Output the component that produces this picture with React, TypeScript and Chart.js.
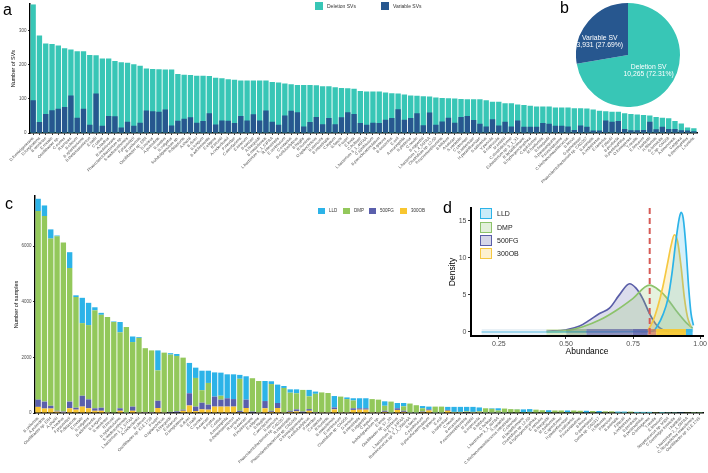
import React, { useEffect, useRef } from "react";
import { Chart, registerables } from "chart.js";

Chart.register(...registerables);

const FONT = "'Liberation Sans', Arial, Helvetica, sans-serif";
const TICK_GREY = "#4d4d4d";

const C_DEL = "#38C6B6";
const C_VAR = "#27578F";
const C_LLD = "#2CB3E8";
const C_DMP = "#93C85B";
const C_FG = "#5A5FAC";
const C_OB = "#F8C630";

// ---------- panel a ----------
const svSpecies = [
  "D.formicigenerans", "D.longicatena", "B.wexlerae", "E.rectale", "Oscillibacter sp.", "C.comes", "R.torques", "B.obeum", "B.xylanisolvens", "B.thetaiotaomicron",
  "E.hallii", "C.catus", "A.hadrus", "R.inulinivorans", "Phascolarctobacterium sp.", "S.wadsworthensis", "F.prausnitzii", "B.uniformis", "Oscillibacter sp. ER4", "D.invisus",
  "A.putredinis", "B.ovatus", "B.vulgatus", "Subdoligranulum sp.", "P.distasonis", "A.shahii", "B.dorei", "B.longum", "B.adolescentis", "E.eligens",
  "R.bromii", "A.onderdonkii", "P.merdae", "C.aerofaciens", "E.siraeum", "B.caccae", "A.finegoldii", "B.massiliensis", "L.bacterium 5_1_63FAA", "R.intestinalis",
  "E.ventriosum", "C.eutactus", "B.cellulosilyticus", "B.fragilis", "R.hominis", "O.splanchnicus", "B.stercoris", "B.intestinalis", "C.leptum", "B.faecis",
  "P.copri", "E.lenta", "C.bolteae", "L.bacterium 3_1_46FAA", "C.symbiosum", "B.pseudocatenulatum", "R.gnavus", "B.crossotus", "E.coli", "A.muciniphila",
  "B.plebeius", "C.nexile", "B.eggerthii", "L.bacterium 1_4_56FAA", "Clostridium sp. L2-50", "P.excrementihominis", "B.bifidum", "A.caccae", "S.variabile", "C.citroniae",
  "B.salyersiae", "H.parainfluenzae", "S.salivarius", "V.parvula", "B.coprocola", "M.smithii", "C.clostridioforme", "Eubacterium sp. 3_1_31", "R.lactatiformans", "B.hydrogenotrophica",
  "C.spiroforme", "M.funiformis", "B.finegoldii", "S.parasanguinis", "P.succinatutens", "C.Methanomassiliicoccus", "B.breve", "G.pamelaeae", "Phascolarctobacterium sp. CAG207", "B.animalis",
  "A.indistinctus", "E.ramulus", "F.plautii", "B.producta", "B.pectinophilus", "O.formigenes", "T.nexilis", "E.limosum", "I.bartlettii", "H.filiformis",
  "G.formicilis", "C.sp. CAG58", "A.timonensis", "V.atypica", "S.thermophilus", "L.ruminis",
];

const totalSVs = [
  378, 286, 263, 261, 257, 249, 245, 240, 240, 229,
  228, 219, 219, 211, 208, 206, 202, 197, 189, 188,
  187, 186, 186, 173, 171, 170, 168, 168, 167, 162,
  161, 158, 156, 154, 154, 154, 154, 154, 150, 148,
  145, 143, 141, 141, 141, 140, 137, 137, 134, 132,
  131, 130, 123, 122, 122, 122, 119, 117, 116, 113,
  110, 109, 108, 107, 104, 103, 102, 101, 100, 99,
  99, 99, 96, 92, 92, 87, 87, 84, 82, 80,
  78, 78, 78, 75, 75, 75, 73, 73, 72, 69,
  65, 64, 62, 62, 58, 56, 54, 53, 51, 47,
  45, 43, 35, 28, 16, 14,
];

const variableSVs = [
  96, 32, 56, 67, 71, 76, 110, 45, 71, 24,
  116, 21, 50, 49, 16, 33, 21, 30, 66, 64,
  62, 69, 22, 36, 42, 46, 30, 35, 58, 25,
  37, 36, 29, 50, 37, 55, 37, 66, 33, 24,
  51, 65, 61, 19, 32, 47, 26, 44, 26, 46,
  61, 56, 29, 24, 30, 29, 39, 44, 70, 39,
  44, 58, 23, 60, 24, 34, 45, 30, 47, 50,
  38, 27, 19, 40, 22, 33, 19, 37, 18, 18,
  18, 29, 27, 21, 21, 19, 9, 22, 18, 7,
  7, 37, 33, 35, 12, 8, 8, 9, 33, 11,
  18, 12, 12, 8, 7, 5,
];

const svTicks = [0, 100, 200, 300];

// ---------- panel b ----------
const pieLabels = ["Deletion SV", "Variable SV"];
const pieValues = [10265, 3931];

// ---------- panel c ----------
const sampleSpecies = [
  "B.uniformis", "A.putredinis", "Oscillibacter sp. ER4", "A.shahii", "A.hadrus", "F.prausnitzii", "P.distasonis", "E.rectale", "B.vulgatus", "B.adolescentis",
  "B.longum", "B.wexlerae", "R.bromii", "B.xylanisolvens", "S.wadsworthensis", "L.bacterium 1_1_57FAA", "A.onderdonkii", "B.obeum", "Oscillibacter sp. KLE 1728", "P.copri",
  "O.splanchnicus", "A.finegoldii", "E.siraeum", "D.longicatena", "B.dorei", "E.hallii", "C.comes", "A.caccae", "B.ovatus", "C.catus",
  "A.muciniphila", "B.thetaiotaomicron", "R.torques", "B.caccae", "R.inulinivorans", "E.eligens", "B.fragilis", "C.aerofaciens", "B.stercoris", "Phascolarctobacterium sp. CAG207",
  "R.intestinalis", "Phascolarctobacterium sp. CAG266", "D.formicigenerans", "B.cellulosilyticus", "P.merdae", "C.eutactus", "R.hominis", "B.massiliensis", "E.ventriosum", "Clostridium sp. CAG58",
  "D.invisus", "B.intestinalis", "B.eggerthii", "C.leptum", "Subdoligranulum sp.", "E.lenta", "Oscillibacter sp. 57_20", "B.plebeius", "L.bacterium 5_1_63FAA", "Ruminococcus sp. 5_1_39BFAA",
  "B.faecis", "C.symbiosum", "B.pseudocatenulatum", "R.gnavus", "E.coli", "B.salyersiae", "C.nexile", "B.crossotus", "P.excrementihominis", "M.smithii",
  "B.coprocola", "B.bifidum", "C.bolteae", "L.bacterium 3_1_46FAA", "S.variabile", "C.Methanomassiliicoccus intestinalis", "C.citroniae", "R.lactatiformans", "Clostridium sp. L2-50", "B.hydrogenotrophica",
  "E.ramulus", "B.finegoldii", "M.funiformis", "C.spiroforme", "H.parainfluenzae", "S.salivarius", "P.succinatutens", "B.breve", "G.pamelaeae", "Dorea sp. CAG317",
  "H.filiformis", "P.faecium", "B.animalis", "F.plautii", "A.indistinctus", "B.producta", "B.pectinophilus", "O.formigenes", "T.nexilis", "E.limosum",
  "Streptococcus sp. M334", "C.Gemmiger formicilis", "I.bartlettii", "L.bacterium 2_1_58FAA", "C.Stoquefichus massiliensis", "Oscillibacter sp. KLE 1745",
];

const lldSamples = [
  440, 380, 330, 30, 0, 570, 60, 910, 800, 110,
  70, 0, 20, 370, 0, 200, 30, 0, 0, 720,
  0, 50, 70, 0, 1090, 370, 700, 440, 870, 830,
  860, 890, 140, 840, 0, 0, 720, 100, 660, 70,
  120, 140, 0, 230, 80, 0, 0, 410, 0, 60,
  80, 360, 360, 0, 0, 160, 0, 190, 120, 0,
  0, 80, 100, 0, 0, 110, 180, 180, 160, 180,
  140, 0, 20, 80, 0, 0, 10, 100, 100, 0,
  0, 70, 0, 0, 60, 0, 0, 60, 0, 50,
  0, 0, 40, 40, 0, 30, 30, 30, 0, 20,
  10, 10, 10, 0, 5, 5,
];

const dmpSamples = [
  6780, 6670, 6010, 6270, 6080, 4800, 3980, 2610, 2670, 3520,
  3340, 3430, 3270, 2730, 3080, 2320, 2680, 2300, 2220, 1090,
  2150, 2060, 1990, 1870, 0, 1030, 450, 780, 0, 140,
  0, 0, 1150, 0, 1200, 1130, 0, 960, 0, 880,
  650, 580, 780, 460, 660, 720, 700, 0, 570, 480,
  280, 0, 0, 480, 460, 180, 400, 0, 160, 330,
  270, 120, 0, 220, 220, 0, 20, 20, 30, 20,
  40, 160, 140, 80, 150, 140, 130, 30, 40, 120,
  100, 30, 90, 90, 30, 90, 80, 20, 70, 20,
  60, 60, 10, 10, 50, 10, 10, 10, 30, 10,
  10, 10, 0, 10, 5, 5,
];

const fg500Samples = [
  260, 250, 100, 30, 40, 240, 70, 390, 320, 90,
  110, 10, 0, 90, 10, 150, 10, 20, 20, 260,
  10, 20, 40, 40, 440, 160, 240, 180, 360, 250,
  300, 270, 50, 300, 30, 10, 260, 40, 180, 10,
  40, 70, 30, 60, 20, 10, 10, 70, 10, 10,
  60, 50, 50, 10, 10, 40, 10, 60, 40, 10,
  10, 20, 40, 10, 10, 30, 10, 10, 10, 10,
  10, 10, 10, 10, 10, 0, 0, 0, 0, 0,
  0, 0, 0, 0, 0, 0, 0, 0, 0, 0,
  0, 0, 0, 0, 0, 0, 0, 0, 0, 0,
  0, 0, 0, 0, 0, 0,
];

const ob300Samples = [
  220, 160, 160, 50, 10, 170, 120, 230, 170, 80,
  80, 10, 0, 80, 0, 80, 10, 10, 10, 180,
  10, 20, 20, 80, 270, 70, 130, 120, 230, 230,
  230, 230, 30, 180, 20, 10, 170, 40, 180, 10,
  40, 60, 20, 80, 10, 10, 10, 130, 10, 10,
  110, 120, 120, 10, 10, 40, 0, 110, 40, 0,
  0, 30, 90, 0, 0, 80, 10, 10, 20, 10,
  10, 0, 0, 0, 0, 0, 0, 0, 0, 0,
  0, 0, 0, 0, 0, 0, 0, 0, 0, 0,
  0, 0, 0, 0, 0, 0, 0, 0, 0, 0,
  0, 0, 0, 0, 0, 0,
];

const sampleTicks = [0, 2000, 4000, 6000];

// ---------- panel d ----------
const lldDensityX = [0.186, 0.3, 0.45, 0.6, 0.72, 0.8, 0.823, 0.842, 0.861, 0.88, 0.895, 0.91, 0.922, 0.929, 0.937, 0.947, 0.957, 0.966, 0.975];
const lldDensityY = [0, 0, 0, 0.02, 0.03, 0.05, 0.1, 0.9, 2.3, 4.5, 7.9, 12.4, 15.3, 16.1, 15.3, 11.5, 6.1, 2.5, 0.9];

const dmpDensityX = [0.43, 0.5, 0.563, 0.625, 0.687, 0.749, 0.811, 0.848, 0.873, 0.91, 0.947, 0.972];
const dmpDensityY = [0, 0.15, 0.7, 1.6, 2.9, 4.5, 6.3, 5.6, 4.7, 2.9, 1.3, 0.5];

const fgDensityX = [0.427, 0.501, 0.551, 0.588, 0.625, 0.662, 0.699, 0.737, 0.761, 0.786, 0.811, 0.836, 0.861, 0.885];
const fgDensityY = [0.1, 0.3, 0.8, 1.6, 2.5, 3.2, 5.0, 6.5, 5.9, 4.5, 2.5, 1.0, 0.3, 0.05];

const obDensityX = [0.78, 0.799, 0.823, 0.842, 0.861, 0.88, 0.892, 0.904, 0.916, 0.929, 0.941, 0.953, 0.966];
const obDensityY = [0, 0.1, 1.4, 3.4, 6.1, 9.5, 11.7, 13.1, 12.2, 8.8, 4.7, 2.0, 0.7];

const abundanceTicks = [0.25, 0.5, 0.75, 1.0];
const densityTicks = [0, 5, 10, 15];
const cutoffAbundance = 0.812;

const rugFrom = [0.186, 0.427, 0.501, 0.576, 0.749, 0.805, 0.836, 0.947];
const rugTo = [0.427, 0.501, 0.576, 0.749, 0.805, 0.836, 0.947, 0.972];
const rugColors = [
  "rgba(215,230,238,0.55)",
  "rgba(170,205,130,0.45)",
  "rgba(130,160,120,0.6)",
  "rgba(105,110,165,0.75)",
  "rgba(91,94,166,0.85)",
  "rgba(205,125,90,0.8)",
  "rgba(247,200,50,0.95)",
  "rgba(44,179,232,0.9)",
];

// ---------- helpers ----------
function ChartCanvas(props: { left: number; top: number; width: number; height: number; make: () => any }) {
  const { left, top, width, height, make } = props;
  const ref = useRef<HTMLCanvasElement | null>(null);
  useEffect(() => {
    if (!ref.current) return;
    const chart = new Chart(ref.current, make());
    return () => chart.destroy();
  }, [make]);
  return (
    <canvas
      ref={ref}
      width={width}
      height={height}
      style={{ position: "absolute", left, top, width, height }}
    />
  );
}

const axisGrid = (len: number) => ({
  display: true,
  drawOnChartArea: false,
  drawTicks: true,
  tickLength: len,
  color: "#333",
  offset: false,
});

const plainTick = (v: any) => String(v);

function makeA() {
  return {
    type: "bar",
    data: {
      labels: svSpecies,
      datasets: [
        { label: "Variable SVs", data: variableSVs, backgroundColor: C_VAR, order: 0, grouped: false, barPercentage: 0.85, categoryPercentage: 1 },
        { label: "Deletion SVs", data: totalSVs, backgroundColor: C_DEL, order: 1, grouped: false, barPercentage: 0.85, categoryPercentage: 1 },
      ],
    },
    options: {
      responsive: false,
      animation: false,
      devicePixelRatio: 1,
      layout: { padding: { top: 3, right: 11, left: 0, bottom: 0 } },
      plugins: { legend: { display: false }, tooltip: { enabled: false } },
      scales: {
        x: {
          grid: axisGrid(2),
          border: { display: true, color: "#000", width: 1.5 },
          ticks: { autoSkip: false, minRotation: 45, maxRotation: 45, padding: 1, color: TICK_GREY, font: { family: FONT, size: 4 } },
          afterFit: (s: any) => { s.height = 52; },
        },
        y: {
          min: 0,
          max: 378,
          afterBuildTicks: (s: any) => { s.ticks = svTicks.map((v) => ({ value: v })); },
          grid: { ...axisGrid(2) },
          border: { display: true, color: "#000", width: 1.5 },
          ticks: { padding: 1.5, color: TICK_GREY, font: { family: FONT, size: 4.5 }, callback: plainTick },
          title: { display: true, text: "Number of SVs", color: "#000", font: { family: FONT, size: 5.5 }, padding: { top: 10, bottom: 0 } },
          afterFit: (s: any) => { s.width = 30; },
        },
      },
    },
  };
}

const pieLabelRadius = [0.5, 0.6];
const pieLabelTurn = [-0.05, -0.26];

const pieLabelPlugin = {
  id: "pieLabelPlugin",
  afterDatasetsDraw(chart: any) {
    const ctx = chart.ctx;
    const meta = chart.getDatasetMeta(0);
    const total = pieValues.reduce((a, b) => a + b, 0);
    ctx.save();
    ctx.fillStyle = "#fff";
    ctx.textAlign = "center";
    ctx.textBaseline = "middle";
    ctx.font = `6.8px ${FONT}`;
    meta.data.forEach((arc: any, i: number) => {
      const p = arc.getProps(["x", "y", "startAngle", "endAngle", "outerRadius"], true);
      const mid = (p.startAngle + p.endAngle) / 2 + pieLabelTurn[i];
      const r = p.outerRadius * pieLabelRadius[i];
      const cx = p.x + Math.cos(mid) * r;
      const cy = p.y + Math.sin(mid) * r;
      const pct = ((pieValues[i] / total) * 100).toFixed(2);
      ctx.fillText(pieLabels[i], cx, cy - 3.8);
      ctx.fillText(`${pieValues[i].toLocaleString("en-US")} (${pct}%)`, cx, cy + 3.8);
    });
    ctx.restore();
  },
};

function makeB() {
  return {
    type: "pie",
    data: {
      labels: pieLabels,
      datasets: [{ data: pieValues, backgroundColor: [C_DEL, C_VAR], borderWidth: 0 }],
    },
    options: {
      responsive: false,
      animation: false,
      devicePixelRatio: 1,
      layout: { padding: 0 },
      plugins: { legend: { display: false }, tooltip: { enabled: false } },
    },
    plugins: [pieLabelPlugin],
  };
}

function makeC() {
  const common = { barPercentage: 0.85, categoryPercentage: 1 };
  return {
    type: "bar",
    data: {
      labels: sampleSpecies,
      datasets: [
        { label: "300OB", data: ob300Samples, backgroundColor: C_OB, ...common },
        { label: "500FG", data: fg500Samples, backgroundColor: C_FG, ...common },
        { label: "DMP", data: dmpSamples, backgroundColor: C_DMP, ...common },
        { label: "LLD", data: lldSamples, backgroundColor: C_LLD, ...common },
      ],
    },
    options: {
      responsive: false,
      animation: false,
      devicePixelRatio: 1,
      layout: { padding: { top: 6, right: 5, left: 0, bottom: 0 } },
      plugins: { legend: { display: false }, tooltip: { enabled: false } },
      scales: {
        x: {
          stacked: true,
          grid: axisGrid(2),
          border: { display: true, color: "#000", width: 1.5 },
          ticks: { autoSkip: false, minRotation: 45, maxRotation: 45, padding: 1, color: TICK_GREY, font: { family: FONT, size: 4 } },
          afterFit: (s: any) => { s.height = 60; },
        },
        y: {
          stacked: true,
          min: 0,
          max: 7800,
          afterBuildTicks: (s: any) => { s.ticks = sampleTicks.map((v) => ({ value: v })); },
          grid: { ...axisGrid(2) },
          border: { display: true, color: "#000", width: 1.5 },
          ticks: { padding: 1.5, color: TICK_GREY, font: { family: FONT, size: 4.5 }, callback: plainTick },
          title: { display: true, text: "Number of samples", color: "#000", font: { family: FONT, size: 5.5 }, padding: { top: 13.5, bottom: 0 } },
          afterFit: (s: any) => { s.width = 35; },
        },
      },
    },
  };
}

const densityDecor = {
  id: "densityDecor",
  afterDatasetsDraw(chart: any) {
    const { ctx, chartArea: ca, scales } = chart;
    const x = scales.x;
    ctx.save();
    for (let i = 0; i < rugFrom.length; i++) {
      const x0 = x.getPixelForValue(rugFrom[i]);
      const x1 = x.getPixelForValue(rugTo[i]);
      ctx.fillStyle = rugColors[i];
      ctx.fillRect(x0, ca.bottom - 7, x1 - x0, 6);
    }
    const cx = x.getPixelForValue(cutoffAbundance);
    ctx.strokeStyle = "#D65A55";
    ctx.lineWidth = 2;
    ctx.setLineDash([6, 4]);
    ctx.beginPath();
    ctx.moveTo(cx, ca.top);
    ctx.lineTo(cx, ca.bottom - 1);
    ctx.stroke();
    ctx.restore();
  },
};

const densityGroups = [
  { label: "LLD", xs: lldDensityX, ys: lldDensityY, color: C_LLD, fill: "rgba(44,179,232,0.2)" },
  { label: "300OB", xs: obDensityX, ys: obDensityY, color: "#F5C842", fill: "rgba(247,200,66,0.22)" },
  { label: "DMP", xs: dmpDensityX, ys: dmpDensityY, color: "#8CC36A", fill: "rgba(140,195,106,0.22)" },
  { label: "500FG", xs: fgDensityX, ys: fgDensityY, color: "#5A5EA8", fill: "rgba(90,94,168,0.22)" },
];

function makeD() {
  return {
    type: "scatter",
    data: {
      datasets: densityGroups.map((g) => ({
        label: g.label,
        data: g.xs.map((v, i) => ({ x: v, y: g.ys[i] })),
        showLine: true,
        borderColor: g.color,
        backgroundColor: g.fill,
        borderWidth: 1.7,
        pointRadius: 0,
        cubicInterpolationMode: "monotone",
        fill: "origin",
      })),
    },
    options: {
      responsive: false,
      animation: false,
      devicePixelRatio: 1,
      layout: { padding: { top: 8, right: 4, left: 0, bottom: 0 } },
      plugins: { legend: { display: false }, tooltip: { enabled: false } },
      scales: {
        x: {
          type: "linear",
          min: 0.146,
          max: 1.011,
          afterBuildTicks: (s: any) => { s.ticks = abundanceTicks.map((v) => ({ value: v })); },
          grid: axisGrid(3),
          border: { display: true, color: "#000", width: 2 },
          ticks: { padding: 1, color: TICK_GREY, font: { family: FONT, size: 7 }, callback: (v: any) => Number(v).toFixed(2) },
          title: { display: true, text: "Abundance", color: "#000", font: { family: FONT, size: 8.5 }, padding: { top: 0, bottom: 3 } },
          afterFit: (s: any) => { s.height = 24; },
        },
        y: {
          type: "linear",
          min: -0.54,
          max: 16.7,
          afterBuildTicks: (s: any) => { s.ticks = densityTicks.map((v) => ({ value: v })); },
          grid: axisGrid(3),
          border: { display: true, color: "#000", width: 2 },
          ticks: { padding: 1.5, color: TICK_GREY, font: { family: FONT, size: 7 }, callback: plainTick },
          title: { display: true, text: "Density", color: "#000", font: { family: FONT, size: 8.5 }, padding: { top: 8, bottom: 0 } },
          afterFit: (s: any) => { s.width = 31; },
        },
      },
    },
    plugins: [densityDecor],
  };
}

function Swatch(props: { x: number; y: number; w: number; h: number; color: string; border?: string }) {
  const { x, y, w, h, color, border } = props;
  return (
    <div
      style={{
        position: "absolute",
        left: x,
        top: y,
        width: w,
        height: h,
        background: color,
        boxSizing: "border-box",
        border: border ? `1.5px solid ${border}` : "none",
      }}
    />
  );
}

function Label(props: { x: number; y: number; size: number; text: string; color?: string }) {
  const { x, y, size, text, color } = props;
  return (
    <div
      style={{
        position: "absolute",
        left: x,
        top: y,
        fontSize: size,
        lineHeight: 1,
        whiteSpace: "nowrap",
        color: color || "#000",
        fontFamily: FONT,
      }}
    >
      {text}
    </div>
  );
}

const legendA = [
  { label: "Deletion SVs", color: C_DEL, x: 315 },
  { label: "Variable SVs", color: C_VAR, x: 381 },
];
const legendC = [
  { label: "LLD", color: C_LLD, x: 318 },
  { label: "DMP", color: C_DMP, x: 343 },
  { label: "500FG", color: C_FG, x: 369 },
  { label: "300OB", color: C_OB, x: 400 },
];
const legendD = [
  { label: "LLD", color: C_LLD, fill: "rgba(44,179,232,0.25)", y: 208 },
  { label: "DMP", color: "#8CC36A", fill: "rgba(140,195,106,0.25)", y: 222 },
  { label: "500FG", color: "#5A5EA8", fill: "rgba(90,94,168,0.25)", y: 235 },
  { label: "300OB", color: "#F5C842", fill: "rgba(247,200,66,0.25)", y: 248 },
];

export default function App() {
  return (
    <div
      style={{
        position: "absolute",
        left: 0,
        top: 0,
        width: 708,
        height: 473,
        overflow: "hidden",
        background: "#fff",
        fontFamily: FONT,
      }}
    >
      <ChartCanvas left={0} top={0} width={708} height={185} make={makeA} />
      <ChartCanvas left={0} top={190} width={708} height={283} make={makeC} />
      <ChartCanvas left={440} top={200} width={268} height={160} make={makeD} />
      <ChartCanvas left={576} top={3} width={104} height={104} make={makeB} />

      <Label x={3} y={1.5} size={16} text="a" />
      <Label x={560} y={0} size={16} text="b" />
      <Label x={5} y={196} size={16} text="c" />
      <Label x={443} y={200} size={16} text="d" />

      {legendA.map((l) => (
        <React.Fragment key={l.label}>
          <Swatch x={l.x} y={2} w={8} h={8} color={l.color} />
          <Label x={l.x + 12} y={3.5} size={5} text={l.label} color="#333" />
        </React.Fragment>
      ))}

      {legendC.map((l) => (
        <React.Fragment key={l.label}>
          <Swatch x={l.x} y={207.5} w={7} h={6.5} color={l.color} />
          <Label x={l.x + 11} y={208.5} size={4.5} text={l.label} color="#333" />
        </React.Fragment>
      ))}

      {legendD.map((l) => (
        <React.Fragment key={l.label}>
          <Swatch x={480} y={l.y} w={12} h={11} color={l.fill} border={l.color} />
          <Label x={497} y={l.y + 2} size={7} text={l.label} color="#222" />
        </React.Fragment>
      ))}
    </div>
  );
}
